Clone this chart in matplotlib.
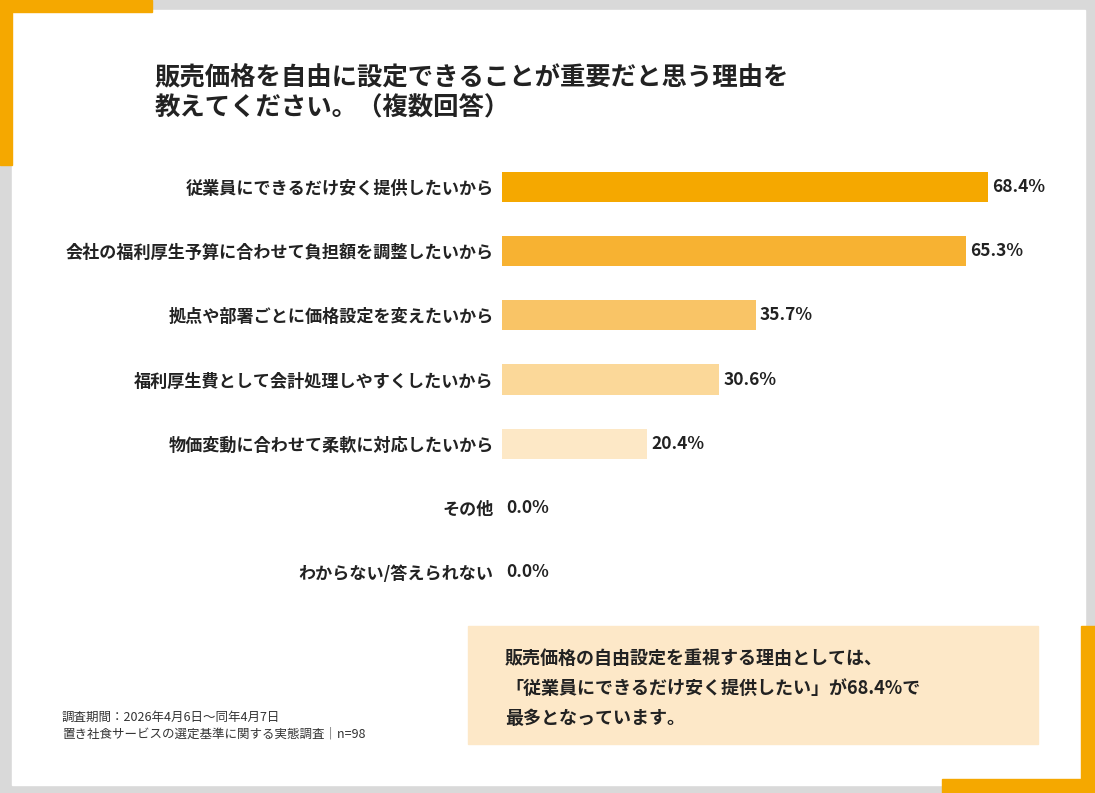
import matplotlib
matplotlib.use("Agg")
import matplotlib.pyplot as plt
from matplotlib.patches import Rectangle

plt.rcParams['font.family'] = ['Noto Sans CJK JP', 'DejaVu Sans']

labels = ['従業員にできるだけ安く提供したいから',
          '会社の福利厚生予算に合わせて負担額を調整したいから',
          '拠点や部署ごとに価格設定を変えたいから',
          '福利厚生費として会計処理しやすくしたいから',
          '物価変動に合わせて柔軟に対応したいから',
          'その他',
          'わからない/答えられない']
values = [68.4, 65.3, 35.7, 30.6, 20.4, 0.0, 0.0]
colors = ['#F5A800', '#F7B232', '#F9C466', '#FBD899', '#FDE8C6', '#FDE8C6', '#FDE8C6']

W, H = 1095, 793
fig = plt.figure(figsize=(W / 100, H / 100), dpi=100)
fig.patch.set_facecolor('#D9D9D9')

def px(x, y, w, h, c):
    fig.patches.append(Rectangle((x / W, 1 - (y + h) / H), w / W, h / H,
                                 transform=fig.transFigure, color=c, zorder=-10))

px(12, 10, 1073, 775, 'white')
orange = '#F5A800'
px(0, 0, 152, 12, orange)
px(0, 0, 12, 165, orange)
px(1081, 626, 14, 160, orange)
px(942, 779, 153, 14, orange)
px(468, 626, 570, 118, '#FDE8C8')

fig.text(155 / W, 1 - 78 / H, '販売価格を自由に設定できることが重要だと思う理由を',
         fontsize=18.3, fontweight='bold', va='center', color='#222222')
fig.text(155 / W, 1 - 108 / H, '教えてください。（複数回答）',
         fontsize=18.3, fontweight='bold', va='center', color='#222222')

ax = fig.add_axes([502 / W, 1 - 604 / H, 558 / W, 449 / H], zorder=5)
ax.set_facecolor('none')
y = list(range(len(values)))
ax.barh(y, values, height=0.47, color=colors)
ax.set_xlim(0, 558 / 7.105)
ax.set_ylim(len(values) - 0.5, -0.5)
for i, v in enumerate(values):
    ax.text(v + 0.6, i, f'{v:.1f}%', va='center', ha='left',
            fontsize=12.5, fontweight='bold', color='#222222')
ax.set_yticks(y)
ax.set_yticklabels(labels, fontsize=12.3, fontweight='bold', color='#222222')
ax.tick_params(axis='y', length=0, pad=6)
ax.set_xticks([])
for s in ax.spines.values():
    s.set_visible(False)

fig.text(505 / W, 1 - 658 / H, '販売価格の自由設定を重視する理由としては、',
         fontsize=13, fontweight='bold', va='center', color='#222222')
fig.text(505 / W, 1 - 688 / H, '「従業員にできるだけ安く提供したい」が68.4%で',
         fontsize=13, fontweight='bold', va='center', color='#222222')
fig.text(505 / W, 1 - 718 / H, '最多となっています。',
         fontsize=13, fontweight='bold', va='center', color='#222222')

fig.text(62 / W, 1 - 717 / H, '調査期間：2026年4月6日～同年4月7日',
         fontsize=9, va='center', color='#333333')
fig.text(62 / W, 1 - 734 / H, '置き社食サービスの選定基準に関する実態調査｜n=98',
         fontsize=9, va='center', color='#333333')

fig.savefig('out.png', dpi=100, facecolor=fig.get_facecolor())
